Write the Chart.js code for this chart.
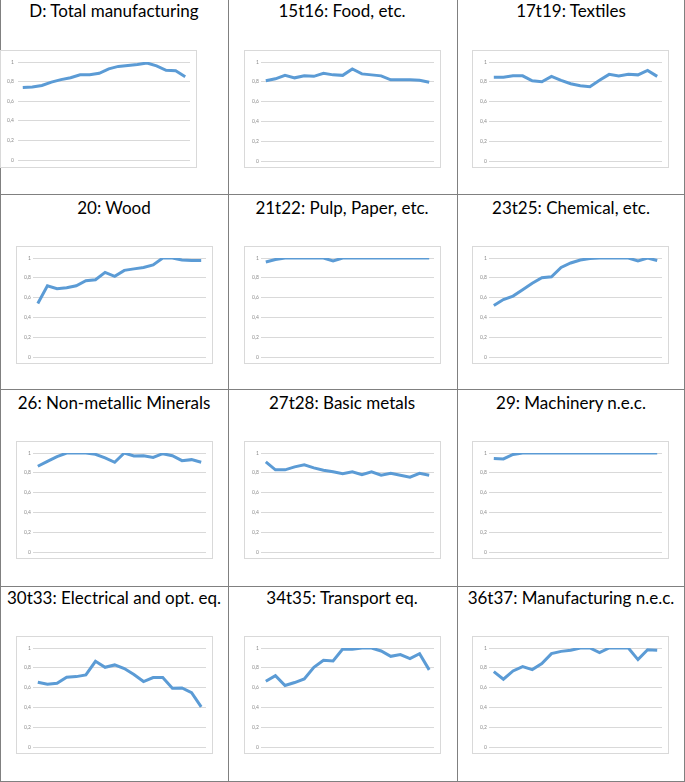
<!DOCTYPE html>
<html>
<head>
<meta charset="utf-8">
<script src="https://cdn.jsdelivr.net/npm/chart.js@4.4.1/dist/chart.umd.min.js"></script>
<style>
  html, body { margin: 0; padding: 0; background: #fff; }
  #wrap { position: relative; width: 685px; height: 782px; overflow: hidden; background: #fff; }
  .hl { position: absolute; height: 1px; background: #808080; }
  .vl { position: absolute; width: 1px; background: #808080; }
  .title { position: absolute; width: 228px; text-align: center; font-family: Lato, "Open Sans", sans-serif;
           font-size: 17px; line-height: 22px; color: #000; white-space: nowrap; }
  .box { position: absolute; width: 195px; height: 116px; border: 1px solid #d9d9d9; background: #fff; }
  .box canvas { display: block; }
</style>
</head>
<body>
<div id="wrap"></div>
<script>
// ---- data ----
const periods = ["1","2","3","4","5","6","7","8","9","10","11","12","13","14","15","16","17","18"];
const yTicks = [0, 0.2, 0.4, 0.6, 0.8, 1];

const titles = [
  "D: Total manufacturing", "15t16: Food, etc.", "17t19: Textiles",
  "20: Wood", "21t22: Pulp, Paper, etc.", "23t25: Chemical, etc.",
  "26: Non-metallic Minerals", "27t28: Basic metals", "29: Machinery n.e.c.",
  "30t33: Electrical and opt. eq.", "34t35: Transport eq.", "36t37: Manufacturing n.e.c."
];

const totalManufacturing = [0.74,0.745,0.76,0.795,0.82,0.84,0.87,0.87,0.885,0.93,0.955,0.965,0.975,0.99,0.96,0.915,0.91,0.85];
const food               = [0.81,0.83,0.865,0.84,0.86,0.855,0.885,0.87,0.865,0.93,0.88,0.87,0.86,0.82,0.82,0.82,0.815,0.795];
const textiles           = [0.845,0.845,0.86,0.86,0.81,0.80,0.855,0.815,0.78,0.76,0.75,0.815,0.875,0.86,0.875,0.87,0.915,0.855];
const wood               = [0.54,0.72,0.69,0.70,0.72,0.77,0.78,0.855,0.815,0.875,0.89,0.905,0.93,1.0,1.0,0.98,0.975,0.975];
const pulpPaper          = [0.96,0.985,1,1,1,1,1,0.97,1,1,1,1,1,1,1,1,1,1];
const chemical           = [0.52,0.58,0.615,0.68,0.745,0.80,0.81,0.905,0.95,0.98,0.995,1,1,1,1,0.97,1,0.975];
const nonMetallic        = [0.866,0.916,0.963,1,1,1,0.987,0.95,0.906,1,0.97,0.973,0.956,0.993,0.973,0.923,0.933,0.906];
const basicMetals        = [0.91,0.83,0.83,0.86,0.88,0.85,0.825,0.81,0.79,0.81,0.78,0.81,0.775,0.795,0.775,0.755,0.795,0.775];
const machinery          = [0.945,0.94,0.985,1,1,1,1,1,1,1,1,1,1,1,1,1,1,1];
const electrical         = [0.654,0.634,0.644,0.705,0.711,0.728,0.866,0.805,0.829,0.792,0.732,0.661,0.701,0.701,0.594,0.597,0.55,0.406];
const transport          = [0.664,0.721,0.621,0.651,0.688,0.805,0.876,0.869,0.99,0.987,1,1,0.97,0.916,0.933,0.893,0.943,0.779];
const manufacturingNec   = [0.762,0.685,0.768,0.812,0.782,0.842,0.943,0.966,0.977,1,1,0.953,1,1,1,0.883,0.983,0.977];

const seriesList = [totalManufacturing, food, textiles, wood, pulpPaper, chemical,
                    nonMetallic, basicMetals, machinery, electrical, transport, manufacturingNec];

// ---- layout ----
const colLeft = [0, 228, 457];
const titleTop = [0, 197, 392, 587];
const boxTop = [50, 246, 441, 636];
const boxLeft = [16, 244, 472];

const wrap = document.getElementById('wrap');
function add(cls, style) {
  const d = document.createElement('div');
  d.className = cls;
  Object.assign(d.style, style);
  wrap.appendChild(d);
  return d;
}
// grid borders
[194, 389, 586, 781].forEach(y => add('hl', {left: '0px', top: y + 'px', width: '685px'}));
[0, 228, 457, 684].forEach(x => add('vl', {left: x + 'px', top: '0px', height: '782px'}));

const fmt = v => String(Math.round(v * 10) / 10).replace('.', ',');

seriesList.forEach((data, i) => {
  const r = Math.floor(i / 3), c = i % 3;
  const t = add('title', {left: colLeft[c] + 'px', top: titleTop[r] + 'px'});
  t.textContent = titles[i];
  const isD = (i === 0);
  const box = add('box', {left: (isD ? 0 : boxLeft[c]) + 'px', top: boxTop[r] + 'px'});
  const cv = document.createElement('canvas');
  cv.width = 195; cv.height = 116;
  box.appendChild(cv);
  new Chart(cv, {
    type: 'line',
    data: {
      labels: periods,
      datasets: [{
        data: data,
        borderColor: '#5B9BD5',
        borderWidth: 3,
        pointRadius: 0,
        tension: 0,
        fill: false
      }]
    },
    options: {
      responsive: false,
      animation: false,
      devicePixelRatio: 1,
      layout: { padding: { top: 11, right: 6, bottom: 6, left: 0 } },
      plugins: { legend: { display: false }, tooltip: { enabled: false }, title: { display: false } },
      scales: {
        x: { type: 'category', display: false, offset: true },
        y: {
          min: 0, max: 1,
          afterBuildTicks: s => { s.ticks = yTicks.map(v => ({ value: v })); },
          afterFit: s => { s.width = isD ? 17 : 16; },
          border: { display: false },
          grid: { color: '#d9d9d9', lineWidth: 1, drawTicks: false },
          ticks: {
            padding: isD ? 4 : 2,
            color: '#8c8c8c',
            font: { family: 'Lato, sans-serif', size: 5 },
            callback: v => fmt(v)
          }
        }
      }
    }
  });
});
</script>
</body>
</html>
